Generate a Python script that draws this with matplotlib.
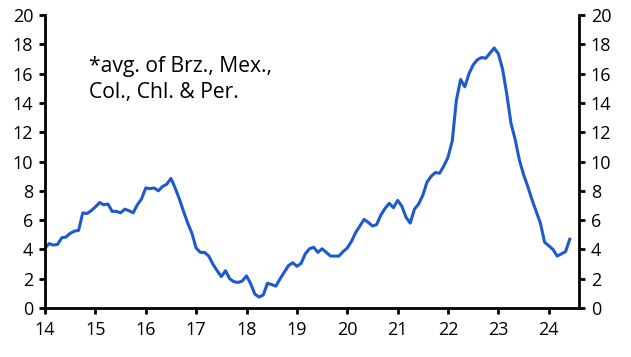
import numpy as np
import matplotlib.pyplot as plt

# monthly, Jan 2014 .. Jun 2024 (x in years, "14" = 2014)
start_year = 14
values = [
    4.1, 4.4, 4.3, 4.35, 4.8, 4.85, 5.1, 5.25, 5.3, 6.5, 6.45, 6.65,      # 2014
    6.9, 7.2, 7.05, 7.1, 6.6, 6.6, 6.5, 6.75, 6.65, 6.5, 7.05, 7.45,      # 2015
    8.2, 8.15, 8.2, 8.0, 8.3, 8.45, 8.85, 8.2, 7.45, 6.6, 5.8, 5.1,       # 2016
    4.1, 3.8, 3.8, 3.55, 3.0, 2.55, 2.15, 2.55, 2.0, 1.8, 1.75, 1.85,     # 2017
    2.2, 1.65, 0.95, 0.75, 0.9, 1.7, 1.6, 1.5, 2.0, 2.45, 2.9, 3.1,      # 2018
    2.85, 3.05, 3.7, 4.05, 4.15, 3.8, 4.05, 3.8, 3.55, 3.55, 3.55, 3.85, # 2019
    4.1, 4.55, 5.15, 5.6, 6.05, 5.85, 5.6, 5.7, 6.35, 6.8, 7.15, 6.85,   # 2020
    7.35, 6.95, 6.2, 5.8, 6.75, 7.1, 7.7, 8.6, 9.0, 9.25, 9.2, 9.7,      # 2021
    10.3, 11.4, 14.2, 15.6, 15.1, 16.0, 16.6, 16.95, 17.1, 17.05, 17.4, 17.75,  # 2022
    17.35, 16.3, 14.6, 12.6, 11.5, 10.1, 9.1, 8.3, 7.4, 6.6, 5.8, 4.5,   # 2023
    4.25, 4.0, 3.55, 3.7, 3.85, 4.7,                                     # 2024
]
x_ticks = list(range(14, 25))
y_ticks = list(range(0, 21, 2))
note = "*avg. of Brz., Mex.,\nCol., Chl. & Per."

plt.rcParams['font.family'] = ['Open Sans', 'DejaVu Sans']

x = start_year + np.arange(len(values)) / 12

fig = plt.figure(figsize=(6.31, 3.57), dpi=100)
ax = fig.add_axes([0.0713, 0.137, 0.8463, 0.821])

ax.plot(x, values, color='#1f5acd', lw=2.2, solid_joinstyle='round')

ax.set_xlim(14, 24.6)
ax.set_ylim(0, 20)
ax.set_xticks(x_ticks)
ax.set_xticklabels([str(t) for t in x_ticks])
ax.set_yticks(y_ticks)

ax.spines['top'].set_visible(False)
for s in ['left', 'right', 'bottom']:
    ax.spines[s].set_linewidth(2)
ax.tick_params(axis='both', direction='out', length=4.5, width=2,
               labelsize=13)
ax.tick_params(axis='x', pad=5)
ax.tick_params(axis='y', pad=4, right=True, labelright=True)

ax.text(0.082, 0.86, note, transform=ax.transAxes, fontsize=15.2,
        va='top', ha='left', linespacing=1.3)

fig.savefig('out.png', dpi=100)
